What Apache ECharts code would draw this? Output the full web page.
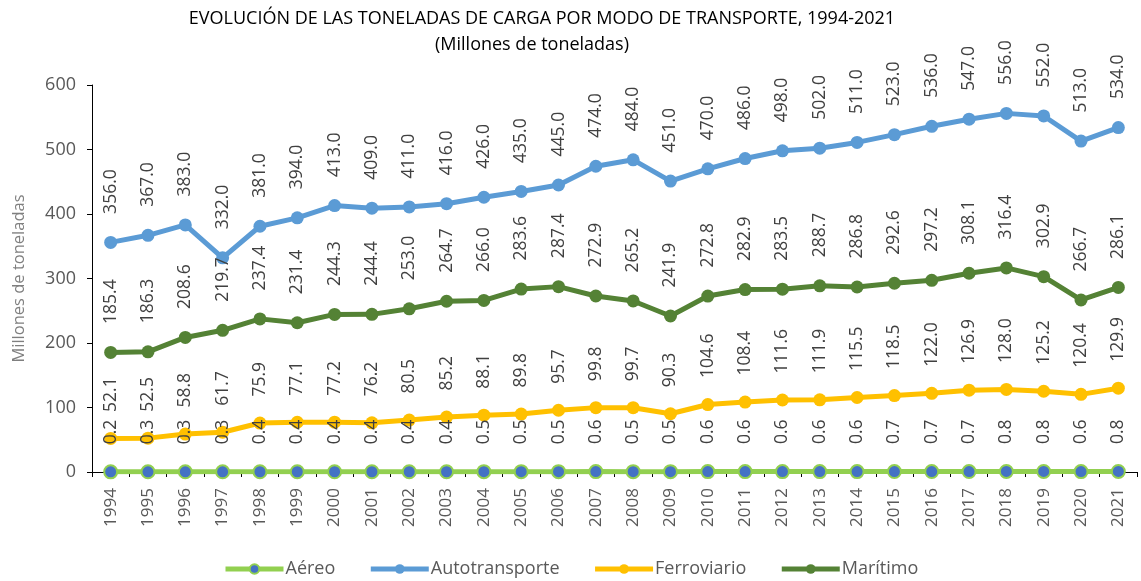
<!DOCTYPE html>
<html>
<head>
<meta charset="utf-8">
<script src="https://cdn.jsdelivr.net/npm/echarts@6/dist/echarts.min.js"></script>
<style>
html,body{margin:0;padding:0;background:#fff;}
#chart{width:1141px;height:581px;}
</style>
</head>
<body>
<div id="chart"></div>
<script>
var years = ['1994','1995','1996','1997','1998','1999','2000','2001','2002','2003','2004','2005','2006','2007','2008','2009','2010','2011','2012','2013','2014','2015','2016','2017','2018','2019','2020','2021'];
var aereo = [0.2,0.3,0.3,0.3,0.4,0.4,0.4,0.4,0.4,0.4,0.5,0.5,0.5,0.6,0.5,0.5,0.6,0.6,0.6,0.6,0.6,0.7,0.7,0.7,0.8,0.8,0.6,0.8];
var autotransporte = [356,367,383,332,381,394,413,409,411,416,426,435,445,474,484,451,470,486,498,502,511,523,536,547,556,552,513,534];
var ferroviario = [52.1,52.5,58.8,61.7,75.9,77.1,77.2,76.2,80.5,85.2,88.1,89.8,95.7,99.8,99.7,90.3,104.6,108.4,111.6,111.9,115.5,118.5,122.0,126.9,128.0,125.2,120.4,129.9];
var maritimo = [185.4,186.3,208.6,219.7,237.4,231.4,244.3,244.4,253.0,264.7,266.0,283.6,287.4,272.9,265.2,241.9,272.8,282.9,283.5,288.7,286.8,292.6,297.2,308.1,316.4,302.9,266.7,286.1];
var yTicks = [0,100,200,300,400,500,600];

var FONT = '"Open Sans", "Noto Sans", sans-serif';
function lbl(dist){
  return {
    show: true, position: 'top', distance: dist, rotate: 90,
    align: 'left', verticalAlign: 'middle',
    color: '#404040', fontSize: 17.5, fontFamily: FONT,
    formatter: function(p){ return Number(p.value).toFixed(1); }
  };
}
function mk(name, data, lineColor, markColor, border, size, width, dist){
  return {
    name: name, type: 'line', data: data,
    symbol: 'circle', symbolSize: size,
    lineStyle: {color: lineColor, width: width},
    itemStyle: {color: markColor, borderColor: border || markColor, borderWidth: border ? 2 : 0},
    label: lbl(dist),
    emphasis: {disabled: true},
    animation: false
  };
}
var chart = echarts.init(document.getElementById('chart'));
chart.setOption({
  animation: false,
  backgroundColor: '#fff',
  title: [{
    text: 'EVOLUCIÓN DE LAS TONELADAS DE CARGA POR MODO DE TRANSPORTE, 1994-2021',
    left: 537, top: 5, textAlign: 'center',
    textStyle: {fontFamily: FONT, fontSize: 18, fontWeight: 'normal', color: '#000'}
  },{
    text: '(Millones de toneladas)',
    left: 527, top: 31, textAlign: 'center',
    textStyle: {fontFamily: FONT, fontSize: 18, fontWeight: 'normal', color: '#000'}
  }],
  grid: {left: 92, right: 4, top: 85, bottom: 109, containLabel: false},
  legend: {
    left: 218, top: 555, itemWidth: 58, itemHeight: 12, itemGap: 33,
    lineStyle: {width: 5},
    textStyle: {fontFamily: FONT, fontSize: 18, color: '#595959', padding: [0,0,0,-3]},
    data: ['Aéreo','Autotransporte','Ferroviario','Marítimo']
  },
  xAxis: {
    type: 'category', data: years, boundaryGap: true,
    axisLine: {lineStyle: {color: '#000', width: 1}},
    axisTick: {show: true, inside: false, length: 5, lineStyle: {color: '#000'}},
    axisLabel: {rotate: 90, margin: 16, fontFamily: FONT, fontSize: 17, color: '#595959'},
    splitLine: {show: false}
  },
  yAxis: {
    type: 'value', min: yTicks[0], max: yTicks[yTicks.length-1], interval: 100,
    name: 'Millones de toneladas', nameLocation: 'middle', nameGap: 64,
    nameTextStyle: {fontFamily: FONT, fontSize: 16.5, color: '#7f7f7f'},
    axisLine: {show: true, lineStyle: {color: '#000', width: 1}},
    axisTick: {show: true, length: 5, lineStyle: {color: '#000'}},
    axisLabel: {margin: 16, fontFamily: FONT, fontSize: 18, color: '#595959'},
    splitLine: {show: false}
  },
  series: [
    mk('Autotransporte', autotransporte, '#5B9BD5', '#5B9BD5', null, 13, 5, 22),
    mk('Marítimo', maritimo, '#548235', '#548235', null, 13, 5, 22),
    mk('Ferroviario', ferroviario, '#FFC000', '#FFC000', null, 13, 5, 20),
    mk('Aéreo', aereo, '#92D050', '#4472C4', '#92D050', 13, 5, 20)
  ]
});
</script>
</body>
</html>
